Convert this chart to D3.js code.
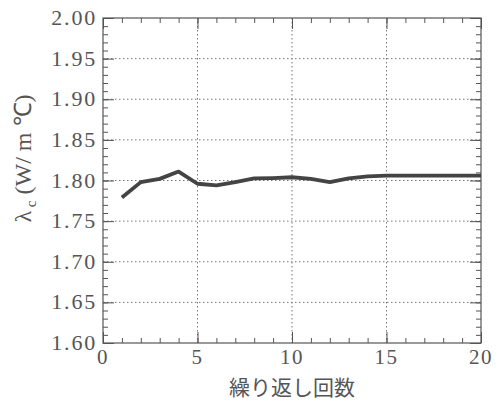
<!DOCTYPE html>
<html>
<head>
<meta charset="utf-8">
<script src="https://cdn.jsdelivr.net/npm/d3@7"></script>
<style>
  body { margin: 0; background: #fff; }
  text { fill: #555; }
</style>
</head>
<body>
<div id="chart"></div>
<script>
// data
var iterations = [1, 2, 3, 4, 5, 6, 7, 8, 9, 10, 11, 12, 13, 14, 15, 16, 17, 18, 19, 20];
var lambdaC = [1.779, 1.798, 1.802, 1.811, 1.796, 1.794, 1.798, 1.8025, 1.803, 1.804,
               1.802, 1.798, 1.8025, 1.805, 1.806, 1.806, 1.806, 1.806, 1.806, 1.806];
var xTicks = [0, 5, 10, 15, 20];
var yTicks = [1.60, 1.65, 1.70, 1.75, 1.80, 1.85, 1.90, 1.95, 2.00];

var width = 496, height = 404;
var margin = { top: 18, right: 15, bottom: 61, left: 103 };
var w = width - margin.left - margin.right;
var h = height - margin.top - margin.bottom;

var svg = d3.select('#chart')
    .append('svg')
    .attr('width', width)
    .attr('height', height)
    .append('g')
    .attr('transform', 'translate(' + margin.left + ',' + margin.top + ')');

var x = d3.scaleLinear().domain([0, 20]).range([0, w]);
var y = d3.scaleLinear().domain([1.60, 2.00]).range([h, 0]);

var ink = '#555';
var serif = '"Liberation Serif", "Times New Roman", serif';

// dotted grid
svg.append('g').selectAll('line')
    .data(xTicks.slice(1, -1))
    .enter().append('line')
    .attr('x1', d => x(d)).attr('x2', d => x(d))
    .attr('y1', 0).attr('y2', h)
    .attr('stroke', '#777').attr('stroke-width', 1)
    .attr('stroke-dasharray', '1.5,2.5');

svg.append('g').selectAll('line')
    .data(yTicks.slice(1, -1))
    .enter().append('line')
    .attr('x1', 0).attr('x2', w)
    .attr('y1', d => y(d)).attr('y2', d => y(d))
    .attr('stroke', '#777').attr('stroke-width', 1)
    .attr('stroke-dasharray', '1.5,2.5');

// inward ticks on all four sides
var xMinor = d3.range(0, 21, 1);
var yMinor = d3.range(160, 201, 1).map(d => d / 100);

function tickAxis(axisFn, scale, values, size) {
    return axisFn(scale).tickValues(values).tickSize(size).tickFormat('');
}

var axes = [
    [d3.axisBottom, x, xMinor, 'translate(0,' + h + ')', -5, xTicks, -11],
    [d3.axisTop, x, xMinor, 'translate(0,0)', -5, xTicks, -11],
    [d3.axisLeft, y, yMinor, 'translate(0,0)', -5, yTicks, -11],
    [d3.axisRight, y, yMinor, 'translate(' + w + ',0)', -5, yTicks, -11]
];
axes.forEach(function(a) {
    var g1 = svg.append('g').attr('transform', a[3])
        .call(tickAxis(a[0], a[1], a[2], a[4]));
    var g2 = svg.append('g').attr('transform', a[3])
        .call(tickAxis(a[0], a[1], a[5], a[6]));
    [g1, g2].forEach(function(g) {
        g.select('.domain').remove();
        g.selectAll('line').attr('stroke', ink).attr('stroke-width', 1);
    });
});

// frame
svg.append('rect')
    .attr('x', 0).attr('y', 0)
    .attr('width', w).attr('height', h)
    .attr('fill', 'none')
    .attr('stroke', ink)
    .attr('stroke-width', 1.2);

// tick labels
svg.append('g').selectAll('text')
    .data(xTicks)
    .enter().append('text')
    .attr('x', d => x(d))
    .attr('y', h + 21)
    .attr('text-anchor', 'middle')
    .style('font-family', serif)
    .style('font-size', '21px')
    .style('letter-spacing', '1.5px')
    .text(d => d);

svg.append('g').selectAll('text')
    .data(yTicks)
    .enter().append('text')
    .attr('x', -6)
    .attr('y', d => y(d) + 7)
    .attr('text-anchor', 'end')
    .style('font-family', serif)
    .style('font-size', '22px')
    .style('letter-spacing', '1.8px')
    .text(d => d.toFixed(2));

// data line
var line = d3.line()
    .x((d, i) => x(iterations[i]))
    .y(d => y(d));

svg.append('path')
    .datum(lambdaC)
    .attr('d', line)
    .attr('fill', 'none')
    .attr('stroke', '#444')
    .attr('stroke-width', 3.8)
    .attr('stroke-linejoin', 'round');

// axis titles
svg.append('text')
    .attr('x', w / 2)
    .attr('y', h + 52)
    .attr('text-anchor', 'middle')
    .style('font-family', '"Noto Sans CJK JP", sans-serif')
    .style('font-size', '21px')
    .text('繰り返し回数');

var yLab = svg.append('text')
    .attr('transform', 'translate(' + (-72) + ',' + (h / 2 - 22) + ') rotate(-90)')
    .attr('text-anchor', 'middle')
    .style('font-family', serif)
    .style('font-size', '24px');
yLab.append('tspan').text('λ');
yLab.append('tspan').attr('dy', 5).style('font-size', '15px').text(' c');
yLab.append('tspan').attr('dy', -5).text(' (W/ m ℃)');
</script>
</body>
</html>
